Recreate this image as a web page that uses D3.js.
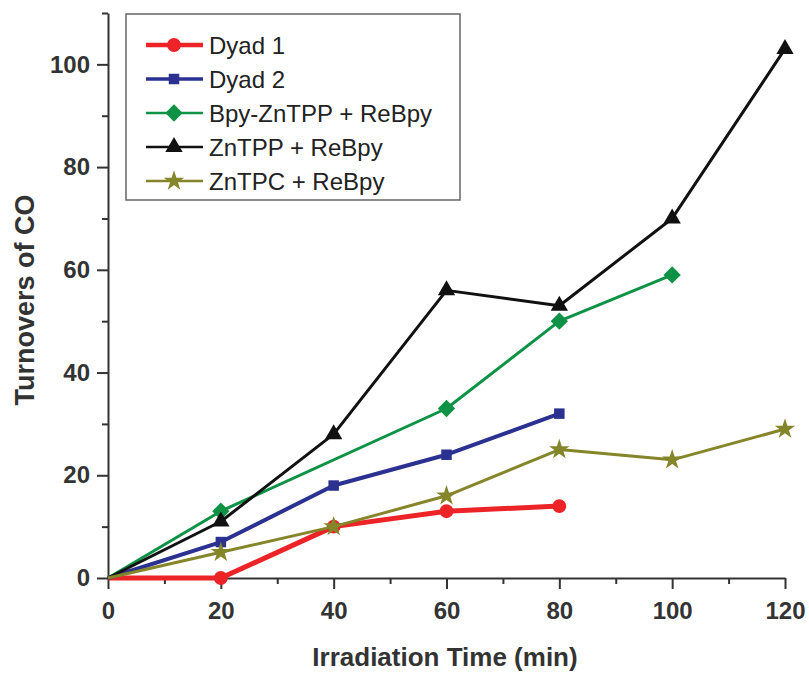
<!DOCTYPE html>
<html>
<head>
<meta charset="utf-8">
<script src="https://cdn.jsdelivr.net/npm/d3@7"></script>
<style>
  body { margin: 0; background: #fff; }
  svg { font-family: "Liberation Sans", Arial, sans-serif; }
</style>
</head>
<body>
<div id="chart"></div>
<script>
// Data
const seriesNames = ["Dyad 1", "Dyad 2", "Bpy-ZnTPP + ReBpy", "ZnTPP + ReBpy", "ZnTPC + ReBpy"];
const dyad1X = [0, 20, 40, 60, 80];
const dyad1Y = [0, 0, 10, 13, 14];
const dyad2X = [0, 20, 40, 60, 80];
const dyad2Y = [0, 7, 18, 24, 32];
const bpyX = [0, 20, 60, 80, 100];
const bpyY = [0, 13, 33, 50, 59];
const zntppX = [0, 20, 40, 60, 80, 100, 120];
const zntppY = [0, 11, 28, 56, 53, 70, 103];
const zntpcX = [0, 20, 40, 60, 80, 100, 120];
const zntpcY = [0, 5, 10, 16, 25, 23, 29];
const xTicks = [0, 20, 40, 60, 80, 100, 120];
const yTicks = [0, 20, 40, 60, 80, 100];

const colors = ["#ec2327", "#2b3190", "#0e9346", "#111111", "#85852a"];
const widths = [5, 4, 3, 3, 3];
// wide diamond: a square turned by 45 degrees
const symbolWideDiamond = {
  draw(ctx, size) {
    const r = Math.sqrt(size / 2);
    ctx.moveTo(0, -r); ctx.lineTo(r, 0); ctx.lineTo(0, r); ctx.lineTo(-r, 0); ctx.closePath();
  }
};
const symbols = [d3.symbolCircle, d3.symbolSquare, symbolWideDiamond, d3.symbolTriangle, d3.symbolStar];
const symSizes = [150, 110, 150, 130, 130];

const series = [
  {xs: dyad1X, ys: dyad1Y},
  {xs: dyad2X, ys: dyad2Y},
  {xs: bpyX, ys: bpyY},
  {xs: zntppX, ys: zntppY},
  {xs: zntpcX, ys: zntpcY}
].map((s, i) => ({name: seriesNames[i], pts: s.xs.map((x, j) => [x, s.ys[j]])}));

const W = 809, H = 677;
const margin = {left: 108, right: 24, top: 13, bottom: 99};
const width = W - margin.left - margin.right;
const height = H - margin.top - margin.bottom;

const svg = d3.select("#chart").append("svg")
    .attr("width", W).attr("height", H);
const g = svg.append("g")
    .attr("transform", `translate(${margin.left}, ${margin.top})`);

const x = d3.scaleLinear().domain([0, 120]).range([0, width]);
const y = d3.scaleLinear().domain([0, 110]).range([height, 0]);

const axisColor = "#333";

// minor ticks
g.append("g")
    .attr("transform", `translate(0, ${height})`)
    .call(d3.axisBottom(x).tickValues(d3.range(10, 120, 20)).tickSize(6).tickFormat(""))
    .call(a => a.select(".domain").remove())
    .selectAll("line").attr("stroke", axisColor).attr("stroke-width", 2);
g.append("g")
    .call(d3.axisLeft(y).tickValues(d3.range(10, 111, 20)).tickSize(6).tickFormat(""))
    .call(a => a.select(".domain").remove())
    .selectAll("line").attr("stroke", axisColor).attr("stroke-width", 2);

// major axes
const xAxis = g.append("g")
    .attr("transform", `translate(0, ${height})`)
    .call(d3.axisBottom(x).tickValues(xTicks).tickSize(11).tickSizeOuter(0).tickPadding(13));
const yAxis = g.append("g")
    .call(d3.axisLeft(y).tickValues(yTicks).tickSize(11).tickSizeOuter(0).tickPadding(7));
[xAxis, yAxis].forEach(a => {
  a.select(".domain").attr("stroke", axisColor).attr("stroke-width", 2);
  a.selectAll("line").attr("stroke", axisColor).attr("stroke-width", 2);
  a.selectAll("text").attr("fill", "#333").style("font-size", "24px").style("font-weight", "bold");
});

// axis labels
svg.append("text")
    .attr("x", 445).attr("y", 666)
    .attr("text-anchor", "middle")
    .style("font-size", "26px").style("font-weight", "bold").attr("fill", "#333")
    .text("Irradiation Time (min)");
svg.append("text")
    .attr("transform", "translate(34, 300) rotate(-90)")
    .attr("text-anchor", "middle")
    .style("font-size", "27px").style("font-weight", "bold").attr("fill", "#333")
    .text("Turnovers of CO");

// lines and markers
const line = d3.line().x(d => x(d[0])).y(d => y(d[1]));
series.forEach((s, i) => {
  g.append("path")
      .datum(s.pts)
      .attr("fill", "none")
      .attr("stroke", colors[i])
      .attr("stroke-width", widths[i])
      .attr("stroke-linejoin", "round")
      .attr("d", line);
  g.selectAll(null)
      .data(s.pts.slice(1))
      .join("path")
      .attr("transform", d => `translate(${x(d[0])}, ${y(d[1])})`)
      .attr("d", d3.symbol().type(symbols[i]).size(symSizes[i]))
      .attr("fill", colors[i]);
});

// legend
const legend = svg.append("g").attr("transform", "translate(126, 14)");
legend.append("rect")
    .attr("width", 334).attr("height", 186)
    .attr("fill", "#fff")
    .attr("stroke", "#666").attr("stroke-width", 1.5);
seriesNames.forEach((name, i) => {
  const row = legend.append("g").attr("transform", `translate(0, ${31 + i * 34})`);
  row.append("line")
      .attr("x1", 20).attr("x2", 77)
      .attr("stroke", colors[i]).attr("stroke-width", widths[i] - 0.5);
  row.append("path")
      .attr("transform", "translate(48, 0)")
      .attr("d", d3.symbol().type(symbols[i]).size(symSizes[i]))
      .attr("fill", colors[i]);
  row.append("text")
      .attr("x", 83).attr("y", 0).attr("dy", "0.36em")
      .style("font-size", "24px").attr("fill", "#222")
      .text(name);
});
</script>
</body>
</html>
